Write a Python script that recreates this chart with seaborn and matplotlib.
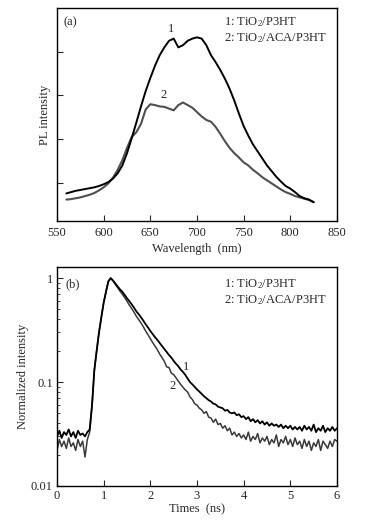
import numpy as np
import pandas as pd
import seaborn as sns
import matplotlib
matplotlib.use("Agg")
import matplotlib.pyplot as plt
from matplotlib.ticker import LogLocator, NullFormatter, FixedLocator, FixedFormatter

# (a) PL spectra (arbitrary units, ticks at 1..4)
wavelength = list(range(560, 830, 5))
pl_tio2_p3ht = [
    0.76, 0.79, 0.82, 0.84, 0.86, 0.88, 0.90, 0.93, 0.97, 1.02,
    1.10, 1.22, 1.40, 1.68, 2.02, 2.38, 2.75, 3.10, 3.40, 3.68,
    3.92, 4.10, 4.25, 4.30, 4.10, 4.15, 4.25, 4.30, 4.33, 4.30,
    4.15, 3.92, 3.76, 3.58, 3.38, 3.15, 2.88, 2.58, 2.30, 2.08,
    1.88, 1.72, 1.56, 1.40, 1.27, 1.14, 1.03, 0.93, 0.87, 0.79,
    0.70, 0.65, 0.62, 0.56,
]
pl_tio2_aca_p3ht = [
    0.62, 0.63, 0.65, 0.67, 0.70, 0.73, 0.77, 0.83, 0.90, 0.99,
    1.12, 1.30, 1.52, 1.80, 2.05, 2.16, 2.35, 2.68, 2.80, 2.78,
    2.75, 2.74, 2.70, 2.66, 2.78, 2.84, 2.78, 2.72, 2.62, 2.52,
    2.44, 2.40, 2.28, 2.12, 1.95, 1.80, 1.68, 1.58, 1.47, 1.40,
    1.30, 1.22, 1.13, 1.06, 0.99, 0.92, 0.85, 0.79, 0.75, 0.70,
    0.67, 0.64, 0.61, 0.56,
]

# (b) transient PL decay, sampled every 0.05 ns from 0 to 6 ns
times = [round(0.05 * i, 2) for i in range(121)]
decay_tio2_p3ht = [
    0.030, 0.034, 0.029, 0.033, 0.031, 0.035, 0.030, 0.033, 0.029, 0.034,
    0.031, 0.032, 0.030, 0.033, 0.035, 0.060, 0.130, 0.200, 0.300, 0.420,
    0.580, 0.740, 0.930, 1.000, 0.950, 0.890, 0.830, 0.780, 0.740, 0.690,
    0.640, 0.600, 0.560, 0.520, 0.480, 0.450, 0.420, 0.390, 0.360, 0.335,
    0.310, 0.290, 0.270, 0.255, 0.238, 0.222, 0.208, 0.195, 0.182, 0.172,
    0.160, 0.150, 0.142, 0.132, 0.125, 0.117, 0.108, 0.100, 0.095, 0.090,
    0.085, 0.081, 0.077, 0.073, 0.070, 0.067, 0.065, 0.062, 0.061, 0.058,
    0.057, 0.056, 0.053, 0.054, 0.051, 0.050, 0.051, 0.048, 0.049, 0.046,
    0.047, 0.044, 0.046, 0.042, 0.044, 0.041, 0.043, 0.040, 0.042, 0.039,
    0.041, 0.038, 0.040, 0.038, 0.039, 0.037, 0.039, 0.036, 0.038, 0.036,
    0.038, 0.035, 0.037, 0.035, 0.037, 0.034, 0.038, 0.035, 0.037, 0.034,
    0.039, 0.033, 0.036, 0.034, 0.038, 0.033, 0.036, 0.034, 0.037, 0.034,
    0.036,
]
decay_tio2_aca_p3ht = [
    0.022, 0.028, 0.024, 0.027, 0.023, 0.029, 0.024, 0.026, 0.022, 0.028,
    0.024, 0.027, 0.019, 0.028, 0.033, 0.058, 0.130, 0.200, 0.300, 0.420,
    0.580, 0.740, 0.930, 1.000, 0.940, 0.870, 0.810, 0.750, 0.700, 0.650,
    0.600, 0.550, 0.510, 0.470, 0.430, 0.400, 0.370, 0.340, 0.310, 0.285,
    0.262, 0.240, 0.222, 0.205, 0.186, 0.172, 0.158, 0.140, 0.138, 0.122,
    0.118, 0.110, 0.102, 0.095, 0.089, 0.084, 0.080, 0.072, 0.068, 0.062,
    0.060, 0.056, 0.054, 0.050, 0.052, 0.046, 0.045, 0.041, 0.044, 0.039,
    0.040, 0.036, 0.038, 0.034, 0.036, 0.031, 0.033, 0.030, 0.032, 0.029,
    0.031, 0.028, 0.033, 0.027, 0.030, 0.028, 0.032, 0.026, 0.029, 0.027,
    0.030, 0.025, 0.028, 0.026, 0.031, 0.024, 0.028, 0.026, 0.030, 0.025,
    0.028, 0.024, 0.029, 0.025, 0.027, 0.023, 0.028, 0.024, 0.027, 0.022,
    0.026, 0.024, 0.028, 0.022, 0.027, 0.025, 0.023, 0.027, 0.024, 0.028,
    0.027,
]

legend_1 = "1: TiO$_2$/P3HT"
legend_2 = "2: TiO$_2$/ACA/P3HT"

sns.set_style("ticks")
plt.rcParams["font.family"] = ["Liberation Serif", "DejaVu Serif"]
plt.rcParams["mathtext.fontset"] = "custom"
plt.rcParams["mathtext.rm"] = "Liberation Serif"
plt.rcParams["mathtext.it"] = "Liberation Serif:italic"
plt.rcParams["font.size"] = 9

fig = plt.figure(figsize=(3.75, 5.23), dpi=100)
ax1 = fig.add_axes([57 / 375, 1 - 221 / 523, 280 / 375, 213 / 523])
ax2 = fig.add_axes([57 / 375, 1 - 486 / 523, 280 / 375, 219 / 523])

# ---- panel (a)
spec = pd.DataFrame({"wl": wavelength, "s1": pl_tio2_p3ht, "s2": pl_tio2_aca_p3ht})
sns.lineplot(data=spec, x="wl", y="s2", color="#505050", lw=1.5, ax=ax1)
sns.lineplot(data=spec, x="wl", y="s1", color="black", lw=1.4, ax=ax1)
ax1.set_xlim(550, 850)
ax1.set_ylim(0.13, 5.0)
ax1.set_xticks([550, 600, 650, 700, 750, 800, 850])
ax1.set_yticks([1, 2, 3, 4])
ax1.set_yticklabels([])
ax1.tick_params(direction="in", length=4, width=0.8, labelsize=9, pad=4)
ax1.set_xlabel("Wavelength  (nm)", fontsize=9, labelpad=3)
ax1.set_ylabel("PL intensity", fontsize=9)
ax1.yaxis.set_label_coords(-0.02, 0.5)
ax1.text(672, 4.52, "1", ha="center", va="center", fontsize=9)
ax1.text(664, 3.02, "2", ha="center", va="center", fontsize=9)
ax1.text(0.023, 0.934, "(a)", transform=ax1.transAxes, va="center", fontsize=9)
ax1.text(0.596, 0.934, legend_1, transform=ax1.transAxes, va="center", fontsize=9)
ax1.text(0.596, 0.859, legend_2, transform=ax1.transAxes, va="center", fontsize=9)

# ---- panel (b)
decay = pd.DataFrame({"t": times, "d1": decay_tio2_p3ht, "d2": decay_tio2_aca_p3ht})
sns.lineplot(data=decay, x="t", y="d2", color="#3a3a3a", lw=1.1, ax=ax2)
sns.lineplot(data=decay, x="t", y="d1", color="black", lw=1.3, ax=ax2)
ax2.set_yscale("log")
ax2.set_xlim(0, 6)
ax2.set_ylim(0.01, 1.28)
ax2.set_xticks([0, 1, 2, 3, 4, 5, 6])
ax2.yaxis.set_major_locator(FixedLocator([0.01, 0.1, 1]))
ax2.yaxis.set_major_formatter(FixedFormatter(["0.01", "0.1", "1"]))
ax2.yaxis.set_minor_locator(LogLocator(base=10, subs=np.arange(2, 10)))
ax2.yaxis.set_minor_formatter(NullFormatter())
ax2.tick_params(which="major", direction="in", length=4, width=0.8, labelsize=9, pad=3)
ax2.tick_params(which="minor", direction="in", length=2, width=0.6)
ax2.set_xlabel("Times  (ns)", fontsize=9, labelpad=1)
ax2.set_ylabel("Normalized intensity", fontsize=9)
ax2.yaxis.set_label_coords(-0.1, 0.5)
ax2.text(2.76, 0.14, "1", ha="center", va="center", fontsize=9)
ax2.text(2.47, 0.092, "2", ha="center", va="center", fontsize=9)
ax2.text(0.029, 0.922, "(b)", transform=ax2.transAxes, va="center", fontsize=9)
ax2.text(0.596, 0.922, legend_1, transform=ax2.transAxes, va="center", fontsize=9)
ax2.text(0.596, 0.849, legend_2, transform=ax2.transAxes, va="center", fontsize=9)

for ax in (ax1, ax2):
    for s in ax.spines.values():
        s.set_linewidth(1.0)
        s.set_color("black")

fig.savefig("out.png", dpi=100)
